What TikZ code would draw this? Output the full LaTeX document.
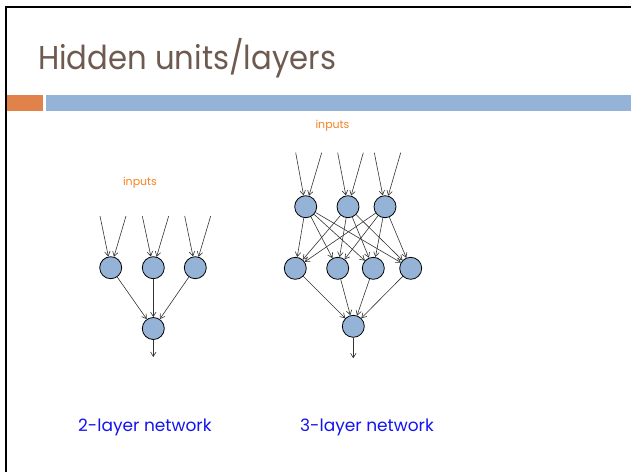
\documentclass[tikz,border=0pt]{standalone}
\usepackage{fontspec}
\setmainfont{Poppins}
\newfontfamily\titlefont[FakeStretch=0.93]{Poppins}
\usetikzlibrary{arrows.meta}
\definecolor{titlecol}{HTML}{6E5A50}
\definecolor{barorange}{HTML}{E0824A}
\definecolor{barblue}{HTML}{95B3D7}
\definecolor{nodeblue}{HTML}{95B3D7}
\definecolor{inorange}{HTML}{F58220}
\definecolor{labblue}{HTML}{1414F0}
\tikzset{
  unit/.style={circle,draw=black,line width=0.8pt,fill=nodeblue,minimum size=22pt,inner sep=0pt},
  conn/.style={draw=black!80,line width=0.6pt,-{Straight Barb[length=4.5pt,width=5.5pt]}},
  inlab/.style={text=inorange,font=\fontsize{11}{12}\selectfont},
  netlab/.style={text=labblue,font=\fontsize{17}{19}\selectfont}
}
\begin{document}
\begin{tikzpicture}[x=1pt,y=-1pt]
\useasboundingbox (0,0) rectangle (631,472);
% frame
\draw[line width=2.2pt,black] (6,472) -- (6,7) -- (631,7);
% title
\node[anchor=base west,inner sep=0pt,text=titlecol,font=\titlefont\fontsize{33}{38}\selectfont] (title) at (38,69.3) {Hidden units/layers};
% bars
\fill[barorange] (7,95) rectangle (42.7,110.5);
\fill[barblue] (46,95) rectangle (631,110.5);

% left network
\node[inlab] (inL) at (140,183) {inputs};
\node[unit] (a1) at (110.7,267.7) {};
\node[unit] (a2) at (153.3,267.7) {};
\node[unit] (a3) at (195.3,267.7) {};
\node[unit] (ao) at (153.3,328.5) {};
\coordinate (sa1) at (100,216);
\coordinate (sa2) at (126,216);
\coordinate (sa3) at (142.3,216);
\coordinate (sa4) at (168.7,216);
\coordinate (sa5) at (184.7,216);
\coordinate (sa6) at (210.7,216);
\coordinate (aout) at (153.3,357);
\draw[conn] (sa1) -- (a1);
\draw[conn] (sa2) -- (a1);
\draw[conn] (sa3) -- (a2);
\draw[conn] (sa4) -- (a2);
\draw[conn] (sa5) -- (a3);
\draw[conn] (sa6) -- (a3);
\foreach \n in {a1,a2,a3} \draw[conn] (\n) -- (ao);
\draw[conn] (ao) -- (aout);

% right network
\node[inlab] (inR) at (332.5,126) {inputs};
\node[unit] (b1) at (305.7,206.7) {};
\node[unit] (b2) at (348,206.7) {};
\node[unit] (b3) at (385,206.7) {};
\node[unit] (c1) at (295.3,268.3) {};
\node[unit] (c2) at (337.7,268.3) {};
\node[unit] (c3) at (373.3,268.3) {};
\node[unit] (c4) at (410.7,268.3) {};
\node[unit] (co) at (353.3,326.3) {};
\coordinate (sb1) at (295.7,152.7);
\coordinate (sb2) at (321.7,152.7);
\coordinate (sb3) at (337.7,152.7);
\coordinate (sb4) at (363.3,152.7);
\coordinate (sb5) at (374.3,152.7);
\coordinate (sb6) at (400.7,152.7);
\coordinate (cout) at (353.3,358.3);
\draw[conn] (sb1) -- (b1);
\draw[conn] (sb2) -- (b1);
\draw[conn] (sb3) -- (b2);
\draw[conn] (sb4) -- (b2);
\draw[conn] (sb5) -- (b3);
\draw[conn] (sb6) -- (b3);
\foreach \s in {b1,b2,b3} \foreach \t in {c1,c2,c3,c4} \draw[conn] (\s) -- (\t);
\foreach \s in {c1,c2,c3,c4} \draw[conn] (\s) -- (co);
\draw[conn] (co) -- (cout);

% labels
\node[netlab,anchor=base west,inner sep=0pt] (l2) at (78,431.5) {2-layer network};
\node[netlab,anchor=base west,inner sep=0pt] (l3) at (300,431.5) {3-layer network};
\end{tikzpicture}
\end{document}
